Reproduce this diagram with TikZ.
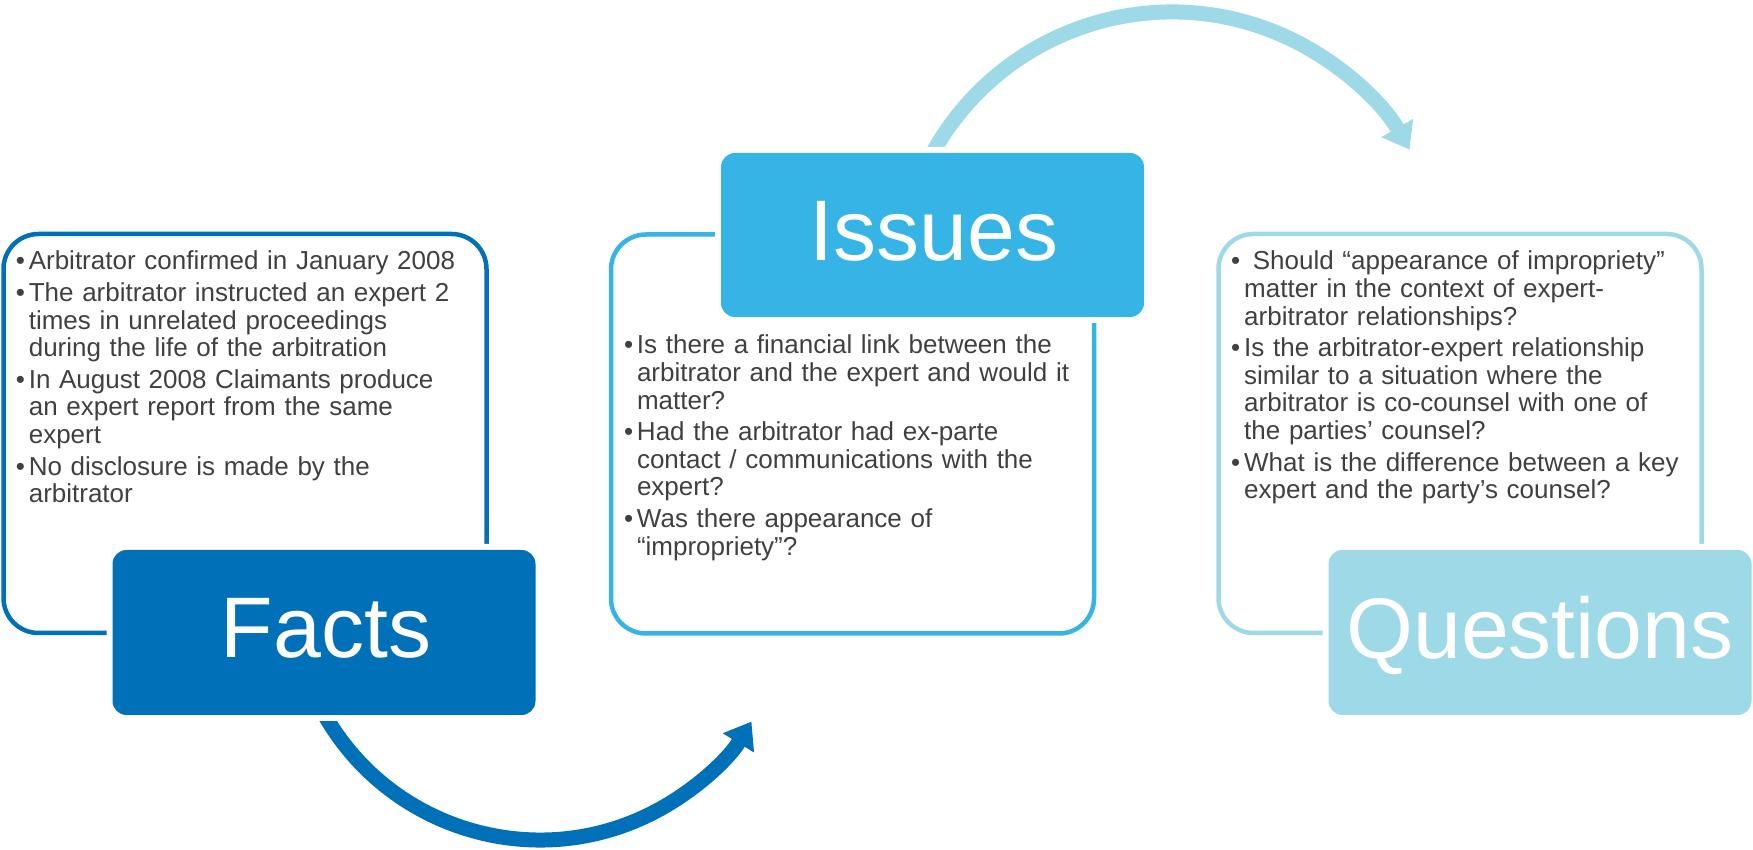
\documentclass[tikz,border=0pt]{standalone}
\usepackage{fontspec}
\setmainfont{Liberation Sans}
\usetikzlibrary{arrows.meta}
\definecolor{cfacts}{HTML}{0070B8}
\definecolor{cissues}{HTML}{35B4E5}
\definecolor{cquest}{HTML}{9DD9E6}
\definecolor{ctext}{HTML}{404040}
\newcommand\bitem{\makebox[13pt][l]{•}}
\newcommand\bcont{\hspace*{13pt}}
\begin{document}
\begin{tikzpicture}[x=1pt,y=1pt,
  outbox/.style={line width=4.5pt, rounded corners=35pt, inner sep=0pt, minimum width=483pt, minimum height=399pt},
  headbox/.style={preaction={draw=white,line width=12pt}, rounded corners=14pt, inner sep=0pt, minimum width=423pt},
  headtext/.style={text=white, font=\fontsize{86}{92}\selectfont, inner sep=0pt, anchor=base},
  bultext/.style={text=ctext, font=\fontsize{26}{27.6}\selectfont, text width=470pt, align=left, inner sep=0pt, anchor=base west},
  bigarrow/.style={line width=15pt, -{Triangle[width=35pt,length=25pt]}}
]
\useasboundingbox (0,0) rectangle (1753,850);

% arrows (drawn first, cut by the white rims of the heading boxes)
\coordinate (c1) at (540,258);
\coordinate (c2) at (1172,564.2);
\draw[bigarrow, cfacts] ([shift={(208:248)}]c1) arc[start angle=208, end angle=328.5, radius=248];
\draw[bigarrow, cquest] ([shift={(153:273.8)}]c2) arc[start angle=153, end angle=29.8, radius=273.8];

% outline boxes
\node[outbox, draw=cfacts] (factsout) at (245,416.5) {};
\node[outbox, draw=cissues] (issuesout) at (852.5,416) {};
\node[outbox, draw=cquest] (questout) at (1460,416.5) {};

% heading boxes
\node[headbox, fill=cfacts, minimum height=165pt] (facts) at (324,217.5) {};
\node[headbox, fill=cissues, minimum height=164pt] (issues) at (932.5,615) {};
\node[headbox, fill=cquest, minimum height=165pt] (quest) at (1540,217.5) {};

\node[headtext] (factslabel) at (326,192) {Facts};
\node[headtext] (issueslabel) at (934,589) {Issues};
\node[headtext] (questlabel) at (1540,191) {Questions};

% bullet texts
\node[bultext] (factstext) at (15.6,580) {%
\bitem Arbitrator confirmed in January 2008\\[4pt]
\bitem The arbitrator instructed an expert 2\\
\bcont times in unrelated proceedings\\
\bcont during the life of the arbitration\\[4pt]
\bitem In August 2008 Claimants produce\\
\bcont an expert report from the same\\
\bcont expert\\[4pt]
\bitem No disclosure is made by the\\
\bcont arbitrator};

\node[bultext] (issuestext) at (623.8,496) {%
\bitem Is there a financial link between the\\
\bcont arbitrator and the expert and would it\\
\bcont matter?\\[4pt]
\bitem Had the arbitrator had ex-parte\\
\bcont contact / communications with the\\
\bcont expert?\\[4pt]
\bitem Was there appearance of\\
\bcont “impropriety”?};

\node[bultext] (questtext) at (1231,580) {%
\bitem\ Should “appearance of impropriety”\\
\bcont matter in the context of expert-\\
\bcont arbitrator relationships?\\[4pt]
\bitem Is the arbitrator-expert relationship\\
\bcont similar to a situation where the\\
\bcont arbitrator is co-counsel with one of\\
\bcont the parties’ counsel?\\[4pt]
\bitem What is the difference between a key\\
\bcont expert and the party’s counsel?};
\end{tikzpicture}
\end{document}
